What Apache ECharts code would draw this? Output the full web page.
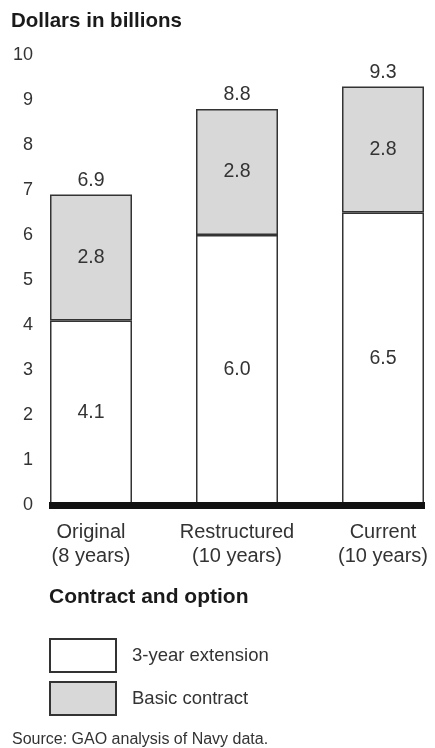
<!DOCTYPE html>
<html><head><meta charset="utf-8">
<script src="https://cdn.jsdelivr.net/npm/echarts@6/dist/echarts.min.js"></script>
<style>html,body{margin:0;padding:0;background:#fff}#c{width:435px;height:748px}</style>
</head><body><div id="c"></div>
<script>
const categories = ['Original\n(8 years)', 'Restructured\n(10 years)', 'Current\n(10 years)'];
const extension = [4.1, 6.0, 6.5];
const basic = [2.8, 2.8, 2.8];
const totals = [6.9, 8.8, 9.3];
const yTicks = [0, 1, 2, 3, 4, 5, 6, 7, 8, 9, 10];

const FONT = '"Liberation Sans", Arial, Helvetica, sans-serif';
const chart = echarts.init(document.getElementById('c'), null, {renderer: 'canvas'});
const lbl = {fontSize: 19.5, color: '#333', fontFamily: FONT};
chart.setOption({
  animation: false,
  textStyle: {fontFamily: FONT},
  title: [
    {text: 'Dollars in billions', left: 6, top: 6, textStyle: {fontSize: 20.5, fontWeight: 'bold', color: '#1a1a1a', fontFamily: FONT}},
    {text: 'Contract and option', left: 44, top: 582, textStyle: {fontSize: 21, fontWeight: 'bold', color: '#1a1a1a', fontFamily: FONT}},
    {text: 'Source: GAO analysis of Navy data.', left: 7, top: 727, textStyle: {fontSize: 16, fontWeight: 'normal', color: '#333', fontFamily: FONT}}
  ],
  legend: {
    orient: 'vertical', left: 44, top: 633, itemWidth: 66, itemHeight: 33, itemGap: 8,
    data: ['3-year extension', 'Basic contract'], icon: 'rect', selectedMode: false,
    textStyle: {fontSize: 18.5, color: '#333', padding: [6, 0, 0, 11], fontFamily: FONT}
  },
  grid: [
    {left: 18, width: 438, top: 55, bottom: 243, outerBoundsMode: 'none', containLabel: false},
    {left: 49, right: 10, top: 55, bottom: 243, z: 10, outerBoundsMode: 'none', containLabel: false}
  ],
  xAxis: [
    {type: 'category', gridIndex: 0, data: categories,
     axisLine: {show: false}, axisTick: {show: false},
     axisLabel: {interval: 0, hideOverlap: false, margin: 15, fontSize: 20, lineHeight: 24, color: '#333', fontFamily: FONT}},
    {type: 'value', gridIndex: 1, min: 0, max: 1, z: 10,
     axisLine: {show: true, onZero: false, lineStyle: {color: '#111', width: 7, cap: 'butt'}},
     axisTick: {show: false}, splitLine: {show: false}, axisLabel: {show: false}}
  ],
  yAxis: [
    {type: 'value', gridIndex: 0, min: 0, max: 10, interval: 1,
     axisLine: {show: false}, axisTick: {show: false}, splitLine: {show: false},
     axisLabel: {show: false}},
    {type: 'value', gridIndex: 1, min: 0, max: 10, interval: 1,
     axisLine: {show: false}, axisTick: {show: false}, splitLine: {show: false},
     axisLabel: {margin: 16, fontSize: 18, color: '#333', fontFamily: FONT}}
  ],
  series: [
    {name: '3-year extension', type: 'bar', stack: 's', barWidth: 82,
     data: extension,
     itemStyle: {color: '#ffffff', borderColor: '#333', borderWidth: 1.5},
     label: Object.assign({show: true, position: 'inside', formatter: p => p.value.toFixed(1)}, lbl)},
    {name: 'Basic contract', type: 'bar', stack: 's', barWidth: 82,
     data: basic,
     itemStyle: {color: '#d8d8d8', borderColor: '#333', borderWidth: 1.5},
     label: Object.assign({show: true, position: 'inside', formatter: p => p.value.toFixed(1)}, lbl)},
    {name: 'total', type: 'bar', stack: 's', barWidth: 82,
     data: totals.map(() => 0),
     itemStyle: {color: 'transparent', borderWidth: 0},
     label: Object.assign({show: true, position: 'top', distance: 4, formatter: p => totals[p.dataIndex].toFixed(1)}, lbl)}
  ]
});
</script></body></html>
